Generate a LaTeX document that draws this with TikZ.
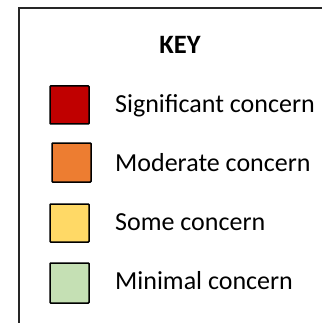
\documentclass[tikz,border=0pt]{standalone}
\usepackage{fontspec}
\setmainfont{Carlito}
\usepackage{xcolor}

\definecolor{sigred}{HTML}{C00000}
\definecolor{modorange}{HTML}{ED7D31}
\definecolor{someyellow}{HTML}{FFD966}
\definecolor{mingreen}{HTML}{C5E0B4}

\begin{document}
\begin{tikzpicture}
  [x=1pt,y=-1pt,
   swatch/.style={draw=black,line width=1.5pt,rounded corners=0.8pt},
   every node/.style={inner sep=0pt,font=\fontsize{26}{30}\selectfont}]
  \useasboundingbox (0,0) rectangle (322,323);
  % frame
  \draw[line width=1.5pt,black!85] (19,323) -- (19,8) -- (322,8);
  \node[anchor=base,font=\fontsize{26.5}{30}\selectfont\bfseries] (key) at (180,54) {KEY};
  % swatches
  \draw[swatch,fill=sigred] (50,86) rectangle (89,124);
  \draw[swatch,fill=modorange] (52,143) rectangle (91,182);
  \draw[swatch,fill=someyellow] (50,204) rectangle (89,242);
  \draw[swatch,fill=mingreen] (50,263) rectangle (89,303);
  % labels
  \node[anchor=base west] (sig) at (115,113) {Significant concern};
  \node[anchor=base west] (mod) at (115,171) {Moderate concern};
  \node[anchor=base west] (some) at (115,230) {Some concern};
  \node[anchor=base west] (min) at (115,289) {Minimal concern};

\end{tikzpicture}
\end{document}
